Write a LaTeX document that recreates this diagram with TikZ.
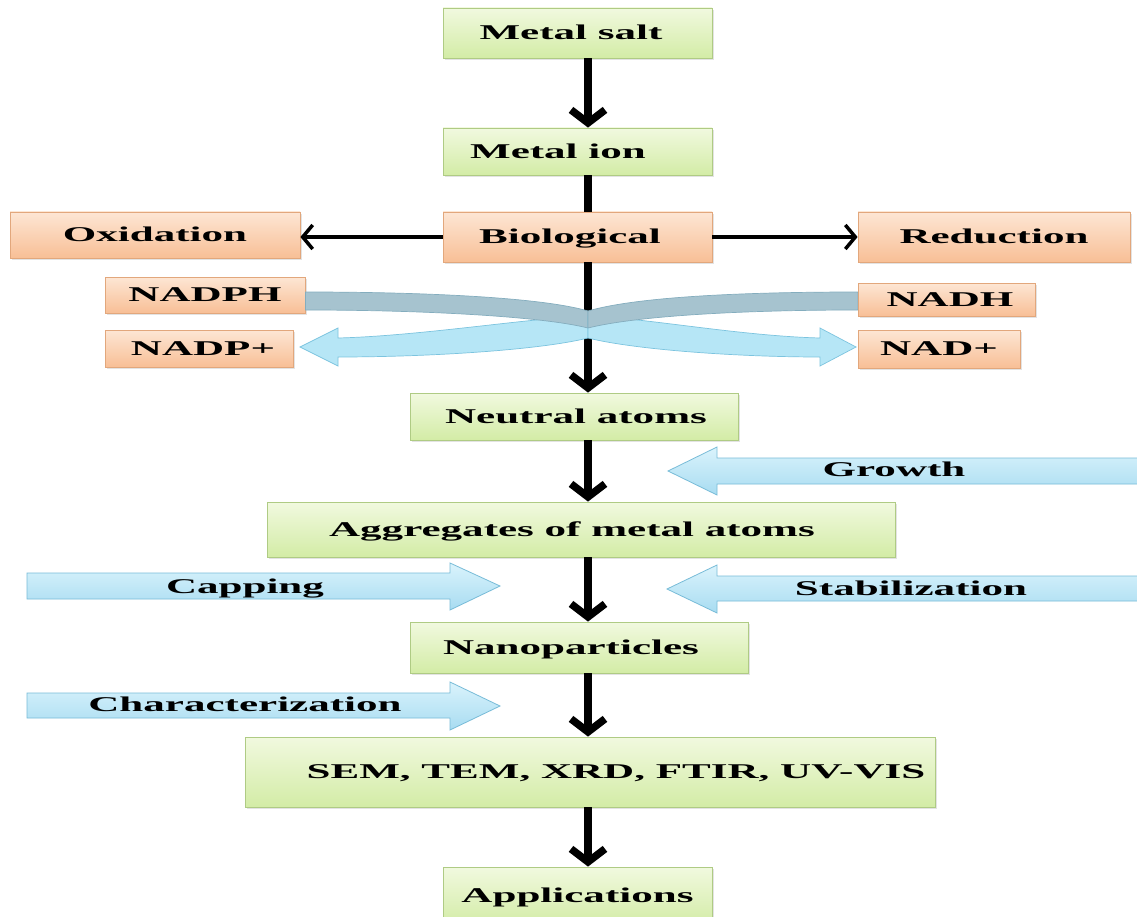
\documentclass[tikz,border=0pt]{standalone}
\usepackage{fontspec}
\newfontface\lbl[FakeStretch=2.05]{Liberation Serif Bold}
\usetikzlibrary{arrows.meta,shadows,calc}
\definecolor{gtop}{HTML}{F1F9DF}
\definecolor{gbot}{HTML}{D3ECA6}
\definecolor{gborder}{HTML}{AFCB84}
\definecolor{otop}{HTML}{FDE6D4}
\definecolor{obot}{HTML}{F8BF96}
\definecolor{oborder}{HTML}{E2A77C}
\definecolor{btop}{HTML}{DAF3FC}
\definecolor{bbot}{HTML}{A8DCF1}
\definecolor{bborder}{HTML}{78BCD8}
\definecolor{dband}{HTML}{A6C3CF}
\definecolor{dbandb}{HTML}{84ADBE}
\definecolor{lband}{HTML}{B6E6F6}
\definecolor{lbandb}{HTML}{7CC4DF}
\begin{document}
\begin{tikzpicture}[x=1pt,y=-1pt,
  txt/.style={font=\fontsize{21}{25}\selectfont\lbl, text height=13.5pt, text depth=0pt, inner sep=0pt},
  gbox/.style={txt, draw=gborder, line width=0.8pt, top color=gtop, bottom color=gbot,
    drop shadow={opacity=0.22, shadow xshift=2pt, shadow yshift=-2pt}},
  obox/.style={txt, draw=oborder, line width=0.8pt, top color=otop, bottom color=obot,
    drop shadow={opacity=0.22, shadow xshift=2pt, shadow yshift=-2pt}},
  flow/.style={line width=7.5pt, -{Straight Barb[length=13pt,width=34pt]}},
  plain/.style={line width=7.5pt},
  side/.style={line width=3.5pt, -{Straight Barb[length=10pt,width=24pt]}},
  blk/.style={draw=bborder, line width=0.8pt, top color=btop, bottom color=bbot},
  dk/.style={draw=dbandb, line width=0.7pt, fill=dband},
  lt/.style={draw=lbandb, line width=0.7pt, fill=lband},
]
\useasboundingbox (0,0) rectangle (1137,917);
\begin{scope}
\clip (0,0) rectangle (1137,917);
\fill[white] (0,0) rectangle (1137,917);

% block arrows
\draw[blk] (1145,458) -- (717,458) -- (717,447) -- (668,471) -- (717,495) -- (717,484) -- (1145,484);
\node[txt] (growth) at (894,470) {Growth};
\draw[blk] (1145,576) -- (717,576) -- (717,565) -- (667,589) -- (717,613) -- (717,601) -- (1145,601);
\node[txt] (stab) at (911,589) {Stabilization};
\draw[blk] (27,573) -- (450,573) -- (450,563) -- (500,586) -- (450,610) -- (450,599) -- (27,599) -- cycle;
\node[txt] (cap) at (245,587) {Capping};
\draw[blk] (27,693) -- (450,693) -- (450,682) -- (500,706) -- (450,730) -- (450,718) -- (27,718) -- cycle;
\node[txt] (charz) at (245,705) {Characterization};

% boxes
\node[gbox, minimum width=269pt, minimum height=50pt] (salt) at (577.5,33) {\hspace*{-13pt}Metal salt};
\node[gbox, minimum width=269pt, minimum height=47pt] (ion) at (577.5,151.5) {\hspace*{-39pt}Metal ion};
\node[obox, minimum width=269pt, minimum height=50pt] (bio) at (577.5,237) {\hspace*{-15pt}Biological};
\node[obox, minimum width=290pt, minimum height=46pt] (oxi) at (155,235) {Oxidation};
\node[obox, minimum width=272pt, minimum height=50pt] (red) at (994,237) {Reduction};
\node[obox, minimum width=200pt, minimum height=36pt] (nadph) at (205,295) {NADPH};
\node[obox, minimum width=188pt, minimum height=37pt] (nadp) at (199,348.5) {\hspace*{8pt}NADP+};
\node[obox, minimum width=177pt, minimum height=33pt] (nadh) at (946.5,299.5) {\hspace*{7pt}NADH};
\node[obox, minimum width=162pt, minimum height=38pt] (nad) at (939,349) {NAD+};
\node[gbox, minimum width=328pt, minimum height=47pt] (neutral) at (574,416.5) {\hspace*{4pt}Neutral atoms};
\node[gbox, minimum width=628pt, minimum height=55pt] (agg) at (581,529.5) {\hspace*{-18pt}Aggregates of metal atoms};
\node[gbox, minimum width=338pt, minimum height=51pt] (nano) at (579,647.5) {\hspace*{-16pt}Nanoparticles};
\node[gbox, minimum width=690pt, minimum height=70pt] (sem) at (590,772) {\hspace*{52pt}SEM, TEM, XRD, FTIR, UV-VIS};
\node[gbox, minimum width=269pt, minimum height=58pt] (app) at (577.5,896) {Applications};

% connectors
\coordinate (spine) at (588,0);
\draw[flow] (salt.south -| spine) -- (ion.north -| spine);
\draw[plain] (ion.south -| spine) -- (bio.north -| spine);
\draw[flow] (bio.south -| spine) -- (neutral.north -| spine);
\draw[flow] (neutral.south -| spine) -- (agg.north -| spine);
\draw[flow] (agg.south -| spine) -- (nano.north -| spine);
\draw[flow] (nano.south -| spine) -- (sem.north -| spine);
\draw[flow] (sem.south -| spine) -- (app.north -| spine);
\draw[side] (bio.west) -- (bio.west -| oxi.east);
\draw[side] (bio.east) -- (bio.east -| red.west);

% U-turn bands (over the spine)
\draw[lt] (588,316) .. controls (530,318) and (420,336) .. (338,338) -- (338,328) -- (300,347) -- (338,366) -- (338,357) .. controls (430,357) and (540,350) .. (588,338) -- cycle;
\draw[dk] (nadph.east |- 0,292) .. controls (420,292) and (540,297) .. (588,311) -- (588,328) .. controls (540,316) and (420,310) .. (nadph.east |- 0,310) -- cycle;
\draw[lt] (588,316) .. controls (646,318) and (740,336) .. (820,338) -- (820,328) -- (856,347) -- (820,366) -- (820,357) .. controls (740,357) and (636,350) .. (588,338) -- cycle;
\draw[dk] (nadh.west |- 0,292) .. controls (740,292) and (636,297) .. (588,311) -- (588,328) .. controls (636,316) and (740,310) .. (nadh.west |- 0,310) -- cycle;
\end{scope}
\end{tikzpicture}
\end{document}
